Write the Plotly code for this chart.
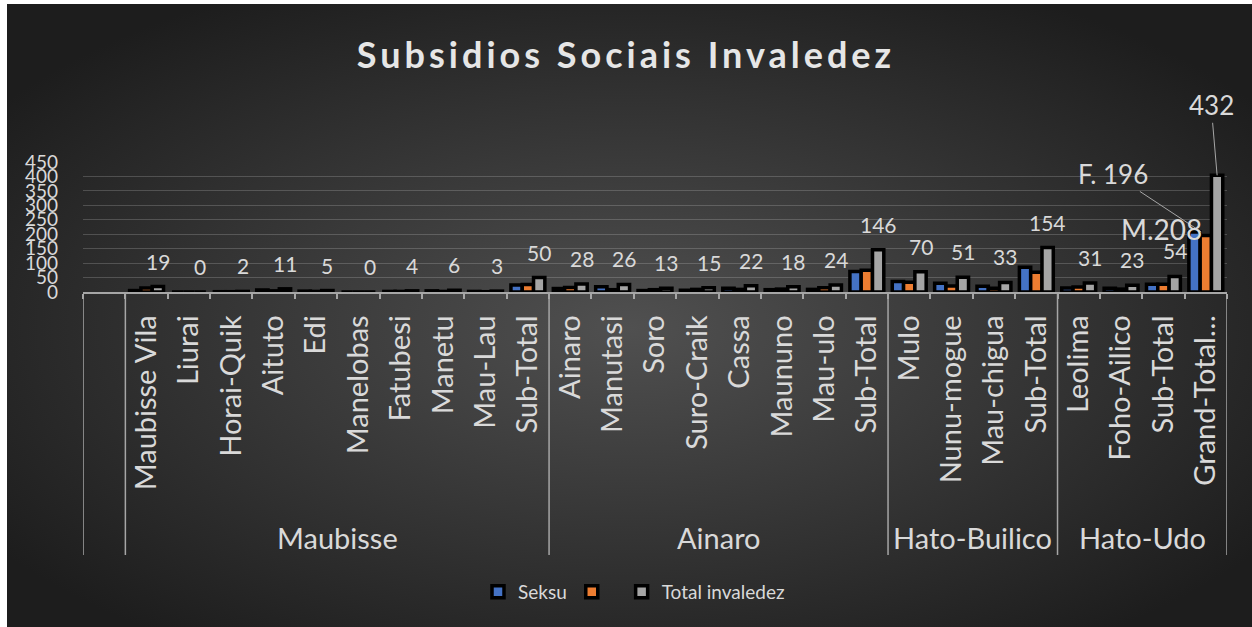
import base64
import plotly.graph_objects as go

# ---------------- data ----------------
categories = ["", "Maubisse Vila", "Liurai", "Horai-Quik", "Aituto", "Edi", "Manelobas",
              "Fatubesi", "Manetu", "Mau-Lau", "Sub-Total",
              "Ainaro", "Manutasi", "Soro", "Suro-Craik", "Cassa", "Maununo", "Mau-ulo", "Sub-Total",
              "Mulo", "Nunu-mogue", "Mau-chigua", "Sub-Total",
              "Leolima", "Foho-Ailico", "Sub-Total", "Grand-Total…"]
groups = ["", "Maubisse", "Ainaro", "Hato-Builico", "Hato-Udo"]
group_sizes = [1, 10, 8, 4, 4]

seksu_m = [None, 5, 0, 1, 7, 3, 0, 2, 4, 2, 24,
           12, 18, 5, 6, 13, 8, 9, 71,
           36, 30, 20, 86,
           14, 13, 27, 208]
seksu_f = [None, 14, 0, 1, 4, 2, 0, 2, 2, 1, 26,
           16, 8, 8, 9, 9, 10, 15, 75,
           34, 21, 13, 68,
           17, 10, 27, 196]
total = [None, 19, 0, 2, 11, 5, 0, 4, 6, 3, 50,
         28, 26, 13, 15, 22, 18, 24, 146,
         70, 51, 33, 154,
         31, 23, 54, 404]
total_labels = ["", "19", "0", "2", "11", "5", "0", "4", "6", "3", "50",
                "28", "26", "13", "15", "22", "18", "24", "146",
                "70", "51", "33", "154",
                "31", "23", "54", "432"]
grand_m_label = "M.208"
grand_f_label = "F. 196"
title_text = "Subsidios Sociais Invaledez"

series_names = ["Seksu", " ", "Total invaledez"]
colors = ["#4472C4", "#ED7D31", "#A5A5A5"]

# ---------------- style ----------------
W, H = 1252, 627
ML, MR, MT, MB = 83, 25, 162, 335
PW, PH = W - ML - MR, H - MT - MB
FONT = "Lato"
TXT = "#d9d9d9"
LINE = "#a6a6a6"
BARGAP = 0.2
bar_w = (1 - BARGAP) / 3

def py(pixel_y):
    return (H - MB - pixel_y) / PH

def px(pixel_x):
    return (pixel_x - ML) / PW

x = list(range(len(categories)))

fig = go.Figure()
for name, vals, col in zip(series_names, [seksu_m, seksu_f, total], colors):
    fig.add_trace(go.Bar(x=x, y=vals, name=name,
                         marker=dict(color=col, line=dict(color="#000000", width=3.5)),
                         cliponaxis=False))

# data labels above the total bars
ann = []
for i, (v, lab) in enumerate(zip(total, total_labels)):
    if v is None or i == len(total) - 1:
        continue
    ann.append(dict(x=i + bar_w, y=v, xref="x", yref="y", text=lab, showarrow=False,
                    yanchor="bottom", yshift=11, font=dict(family=FONT, size=21, color=TXT)))
last = len(total) - 1
ann.append(dict(x=last + bar_w, y=total[last], xref="x", yref="y", text=total_labels[last],
                showarrow=True, arrowhead=0, arrowwidth=1, arrowcolor=LINE, ax=-6, ay=-70,
                font=dict(family=FONT, size=26, color=TXT)))
ann.append(dict(x=last - bar_w * 0.4, y=seksu_m[last], xref="x", yref="y", text=grand_f_label,
                showarrow=True, arrowhead=0, arrowwidth=1, arrowcolor=LINE, ax=-88, ay=-58,
                font=dict(family=FONT, size=26, color=TXT)))
ann.append(dict(x=last - bar_w, y=seksu_m[last], xref="x", yref="y", text=grand_m_label,
                showarrow=False, xshift=-33, yshift=3, yanchor="middle",
                font=dict(family=FONT, size=28, color=TXT)))

# group labels and dividers
shapes = []
start = -0.5
bounds = [start]
for g, n in zip(groups, group_sizes):
    mid = start + n / 2
    if g:
        ann.append(dict(x=mid, y=py(537), xref="x", yref="paper", text=g, showarrow=False,
                        yanchor="middle", font=dict(family=FONT, size=29, color=TXT)))
    start += n
    bounds.append(start)
for b in bounds:
    shapes.append(dict(type="line", xref="x", yref="paper", x0=b, x1=b, y0=0, y1=py(555),
                       line=dict(color=LINE, width=1.5)))

# background gradient
svg = ('<svg xmlns="http://www.w3.org/2000/svg" width="1245" height="623" viewBox="0 0 1245 623" '
       'preserveAspectRatio="none"><defs><radialGradient id="g" cx="50%" cy="52%" r="62%">'
       '<stop offset="0" stop-color="#505050"/><stop offset="1" stop-color="#1d1d1d"/>'
       '</radialGradient></defs><rect width="1245" height="623" fill="url(#g)"/></svg>')
src = "data:image/svg+xml;base64," + base64.b64encode(svg.encode()).decode()

fig.update_layout(
    width=W, height=H,
    margin=dict(l=ML, r=MR, t=MT, b=MB, autoexpand=False),
    paper_bgcolor="#ffffff", plot_bgcolor="rgba(0,0,0,0)",
    barmode="group", bargap=BARGAP, bargroupgap=0,
    title=dict(text='<span style="letter-spacing:4px">' + title_text + '</span>',
               x=0.5, xanchor="center", xref="container",
               y=1 - 55 / H, yanchor="middle",
               font=dict(family=FONT, size=36, color="#e6e6e6", weight="bold")),
    images=[dict(source=src, xref="paper", yref="paper", x=px(7), y=py(4),
                 sizex=(W - 7) / PW, sizey=(H - 4) / PH, xanchor="left", yanchor="top",
                 sizing="stretch", layer="below")],
    xaxis=dict(range=[-0.5, len(categories) - 0.5], tickmode="array", tickvals=x, ticktext=categories,
               tickangle=-90, tickfont=dict(family=FONT, size=29, color=TXT), ticks="",
               showline=True, linecolor=LINE, linewidth=1.5, showgrid=False, zeroline=False,
               ticklabelstandoff=10,
               minor=dict(ticks="outside", tick0=0.5, dtick=1, ticklen=5, tickcolor=LINE, tickwidth=1.5)),
    yaxis=dict(range=[0, 450], dtick=50, tickfont=dict(family=FONT, size=19, color=TXT),
               gridcolor="rgba(217,217,217,0.22)", gridwidth=1, zeroline=False, showline=False,
               ticklabelstandoff=24),
    legend=dict(orientation="h", xref="container", x=634 / W, xanchor="center",
                yref="container", y=1 - 592 / H, yanchor="middle",
                font=dict(family=FONT, size=19, color=TXT), bgcolor="rgba(0,0,0,0)"),
    annotations=ann, shapes=shapes,
)
fig.write_html("out.html", config={"displayModeBar": False},
               post_script="document.body.style.margin='0';")
